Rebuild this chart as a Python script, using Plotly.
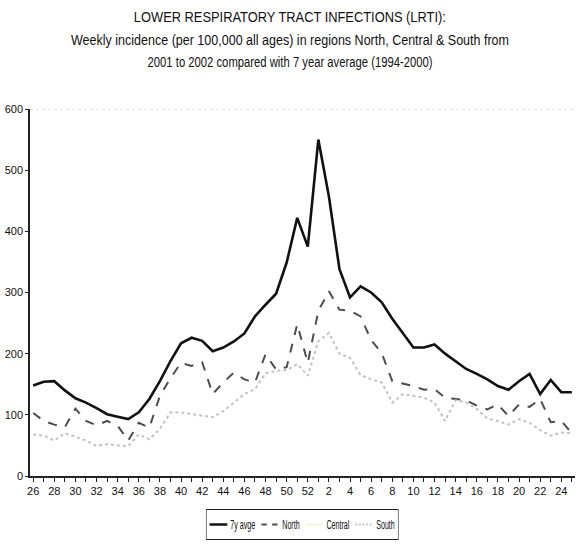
import plotly.graph_objects as go

# Week numbers: week 26 of 2001 through week 25 of 2002
weeks = [str(w) for w in list(range(26, 53)) + list(range(1, 26))]
tick_labels = [w if int(w) % 2 == 0 else "" for w in weeks]

# Weekly incidence per 100,000 (all ages)
avg_7y = [148, 154, 155, 140, 127, 120, 111, 101, 97, 93,
          104, 126, 155, 188, 217, 226, 221, 204, 210, 220,
          233, 261, 280, 298, 349, 422, 375, 550, 457, 338,
          292, 310, 300, 284, 257, 234, 210, 210, 215, 200,
          188, 175, 167, 158, 147, 141, 155, 167, 134, 157,
          137, 137]
north = [103, 90, 84, 80, 110, 90, 83, 90, 82, 58,
         87, 79, 131, 160, 185, 180, 186, 134, 153, 169,
         158, 153, 199, 174, 178, 248, 185, 270, 302, 272,
         270, 261, 222, 201, 155, 151, 147, 141, 142, 128,
         126, 124, 115, 109, 117, 98, 117, 113, 126, 88,
         90, 70]
central = [None] * len(weeks)  # series is listed in the key but not legible
south = [68, 66, 58, 70, 64, 58, 49, 52, 50, 49,
         68, 60, 77, 104, 104, 101, 98, 96, 106, 120,
         134, 142, 168, 172, 173, 183, 164, 220, 234, 200,
         193, 165, 158, 153, 120, 134, 131, 128, 120, 90,
         124, 120, 110, 94, 90, 84, 93, 87, 75, 66,
         71, 70]

FONT = "Liberation Sans, Arial, sans-serif"

fig = go.Figure()
fig.add_trace(go.Scatter(x=weeks, y=avg_7y, name="7y avge", mode="lines",
                         line=dict(color="#111111", width=2.6)))
fig.add_trace(go.Scatter(x=weeks, y=north, name="North", mode="lines",
                         line=dict(color="#4d4d4d", width=2, dash="dash")))
fig.add_trace(go.Scatter(x=weeks, y=central, name="Central", mode="lines",
                         line=dict(color="#f6f3dc", width=2)))
fig.add_trace(go.Scatter(x=weeks, y=south, name="South", mode="lines",
                         line=dict(color="#c2c2c2", width=2, dash="dot")))

# Dotted border line along the top of the plot area
fig.add_shape(type="line", xref="paper", yref="y", x0=0, x1=1, y0=600, y1=600,
              line=dict(color="#c8c8c8", width=1, dash="dot"))

title_lines = [
    "LOWER RESPIRATORY TRACT INFECTIONS (LRTI):",
    "Weekly incidence (per 100,000 all ages) in regions North, Central & South from",
    "2001 to 2002 compared with 7 year average (1994-2000)",
]
title_widths = [312, 438, 285]  # condensed print widths of the heading lines
for i, txt in enumerate(title_lines):
    fig.add_annotation(text=txt, xref="paper", yref="paper",
                       x=(290 - 30) / 545, y=(477 - (17 + 22.5 * i)) / 368,
                       xanchor="center", yanchor="middle", showarrow=False,
                       font=dict(family=FONT, size=14, color="#111111"))

fig.update_layout(
    width=581, height=545,
    margin=dict(l=30, r=6, t=109, b=68),
    paper_bgcolor="white", plot_bgcolor="white",
    font=dict(family=FONT, size=11, color="#111111"),
    showlegend=True,
    legend=dict(orientation="h", x=(299 - 30) / 545, xanchor="center",
                y=(477 - 509) / 368, yanchor="top",
                bordercolor="#222222", borderwidth=1,
                font=dict(family=FONT, size=12, color="#111111"),
                itemwidth=30, tracegroupgap=0),
)
fig.update_xaxes(type="category", range=[-0.3, 51.3],
                 tickmode="array", tickvals=weeks, ticktext=tick_labels,
                 ticks="outside", ticklen=4, tickcolor="#222222",
                 showline=True, linecolor="#222222", linewidth=1.5,
                 showgrid=False, zeroline=False, tickangle=0,
                 tickfont=dict(family=FONT, size=11))
fig.update_yaxes(range=[0, 600], dtick=100, ticks="outside", ticklen=3,
                 tickcolor="#222222", showline=True, linecolor="#222222",
                 linewidth=1.5, showgrid=False, zeroline=False,
                 tickfont=dict(family=FONT, size=11))

# Condensed print style: squeeze heading lines and the key horizontally
post = """
var widths = %s;
var texts = document.querySelectorAll('.annotation-text');
texts.forEach(function(t, i) {
  if (i < widths.length) {
    t.setAttribute('textLength', widths[i]);
    t.setAttribute('lengthAdjust', 'spacingAndGlyphs');
  }
});
var lg = document.querySelector('g.legend');
if (lg) {
  var bb = lg.getBoundingClientRect();
  var s = 192 / bb.width;
  var cx = bb.left + bb.width / 2;
  var orig = lg.getAttribute('transform') || '';
  lg.setAttribute('transform', 'translate(' + cx + ',0) scale(' + s + ',1) translate(' + (-cx) + ',0) ' + orig);
}
""" % str(title_widths)

fig.write_html("out.html", post_script=post)
